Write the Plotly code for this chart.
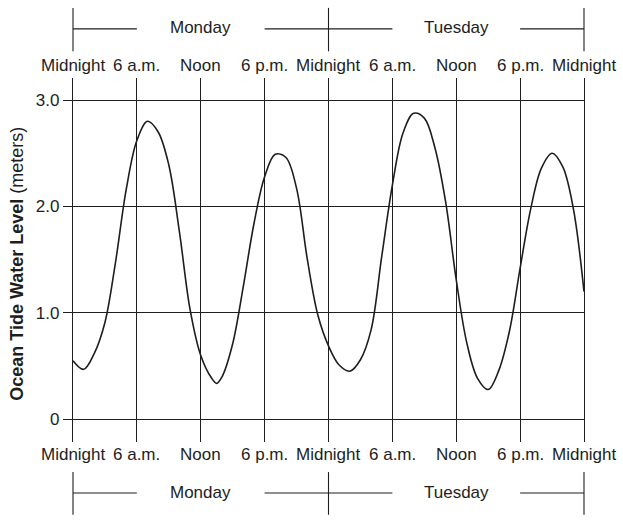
import plotly.graph_objects as go

# Data: water level (meters) by hour from Monday midnight
hours = [0, 1, 2, 3, 4, 5, 6, 7, 8, 9, 10, 11,
         12, 13, 13.5, 14, 15, 16, 17, 18, 19, 20, 21, 22, 23,
         24, 25, 26, 27, 28, 29, 30, 31, 32, 33, 34, 35,
         36, 37, 38, 39, 40, 41, 42, 43, 44, 45, 46, 47, 48]
levels = [0.551, 0.47, 0.62, 0.91, 1.48, 2.16, 2.62, 2.80, 2.70, 2.39, 1.76, 1.03,
          0.60, 0.39, 0.338, 0.40, 0.71, 1.25, 1.84, 2.28, 2.49, 2.46, 2.17, 1.51, 0.98,
          0.69, 0.51, 0.452, 0.56, 0.84, 1.53, 2.20, 2.69, 2.875, 2.83, 2.55, 2.045,
          1.31, 0.714, 0.385, 0.28, 0.46, 0.83, 1.42, 1.98, 2.36, 2.50, 2.374, 1.98,
          1.2]

time_ticks = [0, 6, 12, 18, 24, 30, 36, 42, 48]
time_labels = ["Midnight", "6 a.m.", "Noon", "6 p.m.", "Midnight", "6 a.m.", "Noon", "6 p.m.", "Midnight"]
day_names = ["Monday", "Tuesday"]
day_centers = [12, 36]
y_ticks = [0, 1, 2, 3]
y_labels = ["0", "1.0", "2.0", "3.0"]

FONT = "Liberation Sans, Arial, Helvetica, sans-serif"
INK = "#1e1e1e"

fig = go.Figure()
fig.add_trace(go.Scatter(x=hours, y=levels, mode="lines",
                         line=dict(color=INK, width=1.6, shape="spline", smoothing=1.0),
                         hoverinfo="skip", showlegend=False))

fig.update_layout(
    width=623, height=528,
    margin=dict(l=73, r=39, t=78, b=86),
    paper_bgcolor="white", plot_bgcolor="white",
    font=dict(family=FONT, size=17, color=INK),
    xaxis=dict(range=[0, 48], tickvals=time_ticks[1:-1], showticklabels=False,
               showgrid=True, gridcolor=INK, gridwidth=1.3, zeroline=False,
               showline=False, ticks=""),
    yaxis=dict(range=[-0.213, 3.207], tickvals=y_ticks, ticktext=y_labels,
               showgrid=True, gridcolor=INK, gridwidth=1.3, zeroline=False,
               showline=True, mirror=True, linecolor=INK, linewidth=1.3,
               ticks="outside", ticklen=9, tickcolor=INK, tickwidth=1.3,
               tickfont=dict(family=FONT, size=17, color=INK)),
)

ann = []
for h, lab in zip(time_ticks, time_labels):
    ann.append(dict(x=h, y=1.033, xref="x", yref="paper", text=lab, showarrow=False,
                    xanchor="center", yanchor="middle", font=dict(size=17)))
    ann.append(dict(x=h, y=-0.0357, xref="x", yref="paper", text=lab, showarrow=False,
                    xanchor="center", yanchor="middle", font=dict(size=17)))
for c, d in zip(day_centers, day_names):
    for yy in (1.1374, -0.1374):
        ann.append(dict(x=c, y=yy, xref="x", yref="paper", text=d, showarrow=False,
                        xanchor="center", yanchor="middle", font=dict(size=17)))
ann.append(dict(x=-0.109, y=0.4904, xref="paper", yref="paper",
                text="<b>Ocean Tide Water Level</b> (meters)", textangle=-90,
                showarrow=False, xanchor="center", yanchor="middle",
                font=dict(size=18)))
fig.update_layout(annotations=ann)

# Day brackets (paper coordinates)
shapes = []
line = dict(color=INK, width=1.1)
for top, bottom, mid in ((1.1926, 1.0732, 1.1349), (-0.0826, -0.1998, -0.1403)):
    for px in (0, 0.5, 1):
        shapes.append(dict(type="line", xref="paper", yref="paper", x0=px, x1=px,
                           y0=bottom, y1=top, line=line))
    for a, b in ((0, 0.125), (0.375, 0.625), (0.875, 1)):
        shapes.append(dict(type="line", xref="paper", yref="paper", x0=a, x1=b,
                           y0=mid, y1=mid, line=line))
fig.update_layout(shapes=shapes)

fig.write_html("out.html", config={"displayModeBar": False},
               post_script="document.body.style.margin='0px';")
